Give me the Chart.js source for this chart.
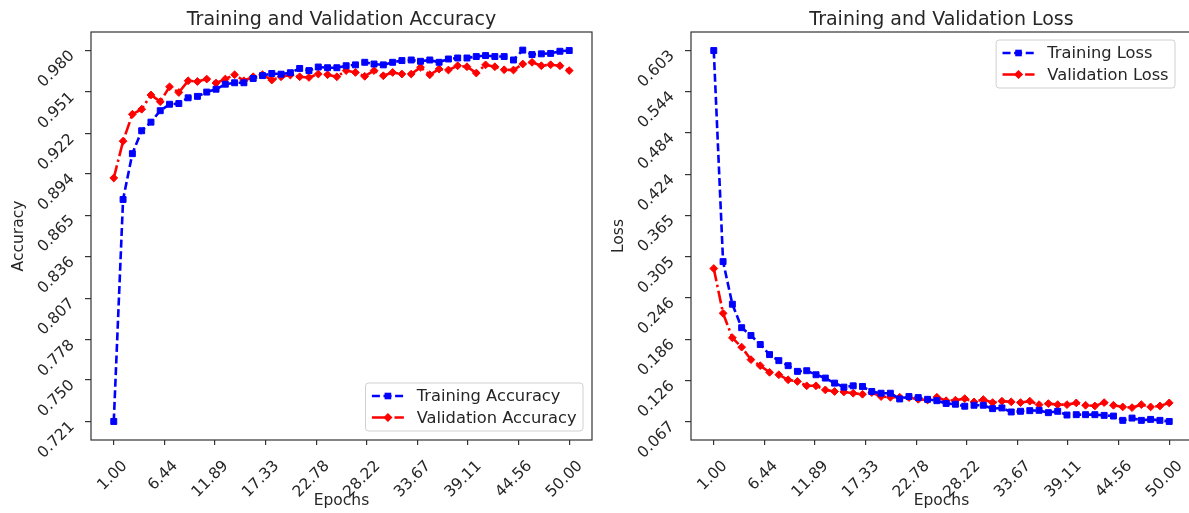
<!DOCTYPE html>
<html>
<head>
<meta charset="utf-8">
<script src="https://cdn.jsdelivr.net/npm/chart.js@4.4.1/dist/chart.umd.min.js"></script>
<style>
  html, body { margin: 0; padding: 0; width: 1189px; height: 513px; overflow: hidden; background: #fff; }
  canvas { position: absolute; top: 0; }
  #accChart { left: 0; }
  #lossChart { left: 600px; }
</style>
</head>
<body>
<canvas id="accChart" width="600" height="513"></canvas>
<canvas id="lossChart" width="600" height="513"></canvas>
<script>
// values
const epochs = [1, 2, 3, 4, 5, 6, 7, 8, 9, 10, 11, 12, 13, 14, 15, 16, 17, 18, 19, 20,
  21, 22, 23, 24, 25, 26, 27, 28, 29, 30, 31, 32, 33, 34, 35, 36, 37, 38, 39, 40,
  41, 42, 43, 44, 45, 46, 47, 48, 49, 50];

const trainAcc = [0.721, 0.876, 0.908, 0.924, 0.930, 0.938, 0.9425, 0.943, 0.947, 0.948,
  0.951, 0.953, 0.9565, 0.9575, 0.9575, 0.9605, 0.9625, 0.964, 0.9635, 0.9645,
  0.9675, 0.966, 0.9685, 0.968, 0.968, 0.9694, 0.970, 0.9718, 0.9706, 0.970,
  0.9718, 0.973, 0.9734, 0.9725, 0.9734, 0.9718, 0.9741, 0.9748, 0.9748, 0.9758,
  0.9765, 0.9758, 0.9758, 0.9734, 0.9803, 0.9772, 0.9777, 0.978, 0.9795, 0.980];

const valAcc = [0.891, 0.9167, 0.9355, 0.939, 0.949, 0.9443, 0.9547, 0.9507, 0.9589, 0.9584,
  0.9601, 0.9573, 0.9601, 0.9631, 0.9589, 0.9617, 0.9631, 0.9594, 0.9617, 0.9629,
  0.9617, 0.9612, 0.9636, 0.9631, 0.9617, 0.966, 0.9647, 0.962, 0.966, 0.9624,
  0.9647, 0.9636, 0.9636, 0.9683, 0.9631, 0.9671, 0.9664, 0.9694, 0.9687, 0.9643,
  0.970, 0.9687, 0.9666, 0.9664, 0.9706, 0.9718, 0.9694, 0.9701, 0.9694, 0.966];

const trainLoss = [0.603, 0.298, 0.2364, 0.2025, 0.1913, 0.1782, 0.1636, 0.1549, 0.1476, 0.1394,
  0.1403, 0.1345, 0.1297, 0.1224, 0.1166, 0.1185, 0.1176, 0.1103, 0.1078, 0.1078,
  0.0995, 0.103, 0.1015, 0.099, 0.097, 0.093, 0.0919, 0.089, 0.0904, 0.0904,
  0.0855, 0.0865, 0.0807, 0.0817, 0.0826, 0.0831, 0.0797, 0.0817, 0.0763, 0.0768,
  0.0768, 0.0768, 0.0758, 0.0748, 0.0686, 0.0719, 0.0686, 0.070, 0.0686, 0.067];

const valLoss = [0.288, 0.2233, 0.1879, 0.1744, 0.1563, 0.1476, 0.138, 0.1345, 0.1272, 0.1248,
  0.1185, 0.1185, 0.1126, 0.1103, 0.1097, 0.1078, 0.1063, 0.1088, 0.103, 0.102,
  0.102, 0.1015, 0.099, 0.098, 0.102, 0.097, 0.0977, 0.100, 0.0953, 0.0986,
  0.0943, 0.0963, 0.0953, 0.0943, 0.0963, 0.0913, 0.0928, 0.0913, 0.0913, 0.0938,
  0.0904, 0.0894, 0.0943, 0.0904, 0.088, 0.087, 0.0913, 0.088, 0.0894, 0.0938];

const epochTicks = [1.00, 6.44, 11.89, 17.33, 22.78, 28.22, 33.67, 39.11, 44.56, 50.00];
const accTicks = [0.721, 0.750, 0.778, 0.807, 0.836, 0.865, 0.894, 0.922, 0.951, 0.980];
const lossTicks = [0.067, 0.126, 0.186, 0.246, 0.305, 0.365, 0.424, 0.484, 0.544, 0.603];

const TEXT = '#262626';
const FONT = '"DejaVu Sans", sans-serif';

// matplotlib-like margins: 5% of data range on each side
function padRange(ticks) {
  const lo = ticks[0], hi = ticks[ticks.length - 1];
  const m = (hi - lo) * 0.05;
  return {min: lo - m, max: hi + m};
}

function drawMarker(ctx, style, x, y, color) {
  ctx.fillStyle = color;
  ctx.beginPath();
  if (style === 'rect') {
    ctx.rect(x - 3.3, y - 3.3, 6.6, 6.6);
  } else {
    ctx.moveTo(x, y - 4.6); ctx.lineTo(x + 4.6, y); ctx.lineTo(x, y + 4.6); ctx.lineTo(x - 4.6, y);
    ctx.closePath();
  }
  ctx.fill();
}

// frame, title and legend drawn inside the axes box
const framePlugin = {
  id: 'frame',
  afterDraw(chart, args, opts) {
    const {ctx, chartArea: a} = chart;
    ctx.save();
    ctx.strokeStyle = '#333';
    ctx.lineWidth = 1.2;
    ctx.strokeRect(a.left, a.top, a.right - a.left, a.bottom - a.top);

    ctx.fillStyle = TEXT;
    ctx.font = '19px ' + FONT;
    ctx.textAlign = 'center';
    ctx.textBaseline = 'alphabetic';
    ctx.fillText(opts.title, (a.left + a.right) / 2, 25);

    // legend box
    ctx.font = '16.3px ' + FONT;
    const sets = chart.data.datasets;
    const textW = Math.max(...sets.map(d => ctx.measureText(d.label).width));
    const w = 6.4 + 32 + 12.8 + textW + 6.4;
    const h = 48;
    const right = a.right - opts.legendDx;
    const left = right - w;
    const top = opts.legendCorner === 'lower right' ? a.bottom - opts.legendDy - h : a.top + opts.legendDy;
    ctx.beginPath();
    ctx.roundRect(left, top, w, h, 3);
    ctx.fillStyle = 'rgba(255,255,255,0.8)';
    ctx.fill();
    ctx.strokeStyle = '#d0d0d0';
    ctx.lineWidth = 1;
    ctx.stroke();

    sets.forEach((d, i) => {
      const y = top + 13 + i * 21.5;
      ctx.strokeStyle = d.borderColor;
      ctx.lineWidth = d.borderWidth;
      ctx.setLineDash(d.borderDash);
      ctx.beginPath();
      ctx.moveTo(left + 6.4, y);
      ctx.lineTo(left + 38.4, y);
      ctx.stroke();
      ctx.setLineDash([]);
      drawMarker(ctx, d.pointStyle, left + 22.4, y, d.borderColor);
      ctx.fillStyle = TEXT;
      ctx.textAlign = 'left';
      ctx.textBaseline = 'middle';
      ctx.fillText(d.label, left + 51.2, y + 1);
    });
    ctx.restore();
  }
};

function toPoints(values) {
  return epochs.map((e, i) => ({x: e, y: values[i]}));
}

function createLineChart(canvas, title, yLabel, trainVals, valVals, names, yTicks, decimals, legend) {
  const xr = padRange(epochTicks);
  const yr = padRange(yTicks);

  const chart_data = {
    datasets: [{
      label: names[0],
      data: toPoints(trainVals),
      borderColor: '#0000ff',
      backgroundColor: '#0000ff',
      borderWidth: 2.6,
      borderDash: [8, 3.6],
      pointStyle: 'rect',
      pointRadius: 4.2,
      pointBorderWidth: 1,
      tension: 0,
    }, {
      label: names[1],
      data: toPoints(valVals),
      borderColor: '#ff0000',
      backgroundColor: '#ff0000',
      borderWidth: 2.6,
      borderDash: [13, 3.6, 2.4, 3.6],
      pointStyle: 'rectRot',
      pointRadius: 3.9,
      pointBorderWidth: 1,
      tension: 0,
    }]
  };

  const options = {
    responsive: false,
    animation: false,
    devicePixelRatio: 1,
    layout: { padding: {top: 32, right: 8, left: 0, bottom: 0} },
    plugins: {
      legend: { display: false },
      tooltip: { enabled: false },
      frame: { title: title, legendCorner: legend.corner, legendDx: legend.dx, legendDy: legend.dy },
    },
    scales: {
      x: {
        type: 'linear',
        min: xr.min,
        max: xr.max,
        afterBuildTicks: scale => { scale.ticks = epochTicks.map(v => ({value: v})); },
        afterFit: scale => { scale.height = 73; },
        border: { display: false },
        grid: { display: true, drawOnChartArea: false, drawTicks: true, tickLength: 5, color: '#333', lineWidth: 1.2 },
        ticks: {
          autoSkip: false,
          minRotation: 45,
          maxRotation: 45,
          padding: 12,
          labelOffset: 11,
          color: TEXT,
          font: {family: FONT, size: 15.5},
          callback: v => v.toFixed(2),
        },
        title: { display: true, text: 'Epochs', color: TEXT, font: {family: FONT, size: 15.5}, padding: {top: 0, bottom: 3} },
      },
      y: {
        type: 'linear',
        min: yr.min,
        max: yr.max,
        afterBuildTicks: scale => { scale.ticks = yTicks.map(v => ({value: v})); },
        afterFit: scale => { scale.width = 91; },
        border: { display: false },
        grid: { display: true, drawOnChartArea: false, drawTicks: true, tickLength: 6, color: '#333', lineWidth: 1.2 },
        ticks: {
          autoSkip: false,
          minRotation: 45,
          maxRotation: 45,
          padding: 13,
          labelOffset: 3,
          color: TEXT,
          font: {family: FONT, size: 15.5},
          callback: v => v.toFixed(decimals),
        },
        title: { display: true, text: yLabel, color: TEXT, font: {family: FONT, size: 15.5}, padding: {top: 10, bottom: 0} },
      },
    },
  };

  return new Chart(canvas, { type: 'line', data: chart_data, options: options, plugins: [framePlugin] });
}

createLineChart(document.getElementById('accChart'), 'Training and Validation Accuracy', 'Accuracy',
  trainAcc, valAcc, ['Training Accuracy', 'Validation Accuracy'], accTicks, 3,
  {corner: 'lower right', dx: 9, dy: 9});

createLineChart(document.getElementById('lossChart'), 'Training and Validation Loss', 'Loss',
  trainLoss, valLoss, ['Training Loss', 'Validation Loss'], lossTicks, 3,
  {corner: 'upper right', dx: 17, dy: 8});
</script>
</body>
</html>
